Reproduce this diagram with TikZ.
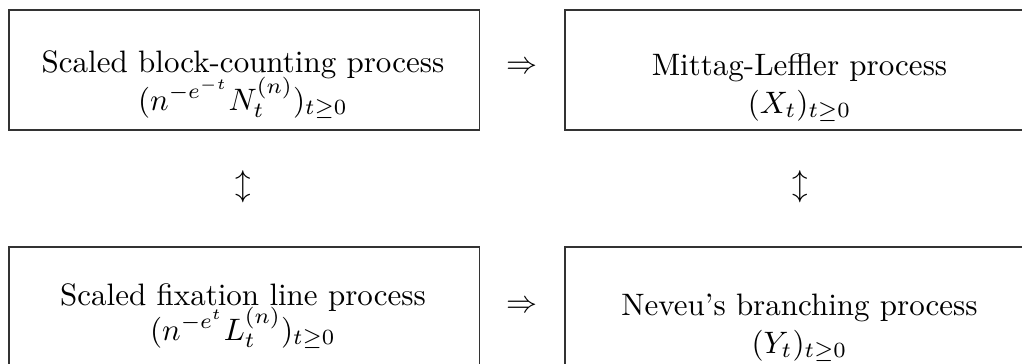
\documentclass[tikz,border=0pt]{standalone}
\usepackage{amsmath,amssymb}
\begin{document}
\begin{tikzpicture}[x=0.3226pt,y=0.3226pt,
  procbox/.style={draw, line width=0.5pt, draw=black!80, minimum width=151.9pt, minimum height=38.7pt,
    anchor=north west, inner sep=0pt},
  txt/.style={anchor=base, inner sep=0pt},
  rel/.style={inner sep=0pt}]
\useasboundingbox (0,0) rectangle (1022,-363);
\clip (0,0) rectangle (1022,-363);
% the four process boxes
\node[procbox] (bc) at (8,-9) {};
\node[procbox] (ml) at (564,-9) {};
\node[procbox] (fl) at (8,-246) {};
\node[procbox] (nb) at (564,-246) {};
% box contents
\node[txt] (bc1) at (243,-72) {Scaled block-counting process};
\node[txt] (bc2) at (243,-110) {$(n^{-e^{-t}}N_t^{(n)})_{t\geq0}$};
\node[txt] (ml1) at (799.5,-75) {Mittag-Leffler process};
\node[txt] (ml2) at (799.5,-113) {$(X_t)_{t\geq0}$};
\node[txt] (fl1) at (243,-305) {Scaled fixation line process};
\node[txt] (fl2) at (243,-340) {$(n^{-e^{t}}L_t^{(n)})_{t\geq0}$};
\node[txt] (nb1) at (799.5,-315) {Neveu's branching process};
\node[txt] (nb2) at (799.5,-353) {$(Y_t)_{t\geq0}$};
% relations between the processes
\node[rel] (r1) at (522,-68) {$\Rightarrow$};
\node[rel] (r2) at (522,-307) {$\Rightarrow$};
\node[rel] (r3) at (243,-187) {$\updownarrow$};
\node[rel] (r4) at (800,-187) {$\updownarrow$};
\end{tikzpicture}
\end{document}
